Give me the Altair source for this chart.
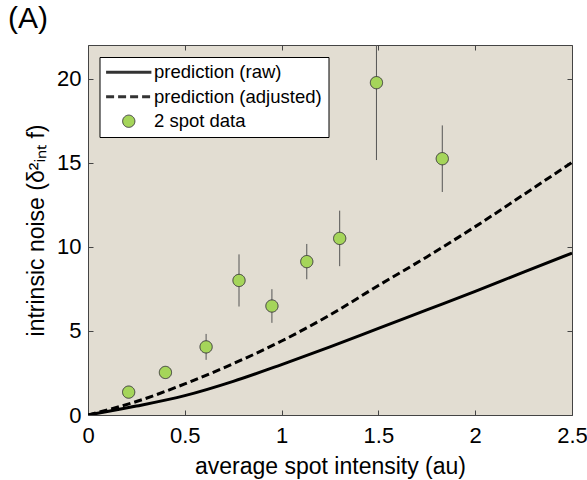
import altair as alt
import pandas as pd

# ---- data ----
series_names = ["prediction (raw)", "prediction (adjusted)", "2 spot data"]

curve_x = [0.0, 0.25, 0.5, 0.75, 1.0, 1.25, 1.5, 1.75, 2.0, 2.25, 2.5]
raw_y = [0.0, 0.53, 1.15, 2.0, 3.0, 4.05, 5.15, 6.25, 7.35, 8.5, 9.63]
adj_y = [0.0, 0.8, 1.85, 3.05, 4.4, 5.95, 7.7, 9.4, 11.2, 13.1, 15.02]

data_x = [0.21, 0.40, 0.61, 0.78, 0.95, 1.13, 1.30, 1.49, 1.83]
data_y = [1.36, 2.53, 4.05, 8.0, 6.48, 9.12, 10.5, 19.76, 15.24]
data_err = [0.3, 0.3, 0.77, 1.55, 1.0, 1.05, 1.65, 4.6, 1.98]

x_ticks = [0, 0.5, 1, 1.5, 2, 2.5]
y_ticks = [0, 5, 10, 15, 20]

curves = pd.DataFrame({
    "x": curve_x + curve_x,
    "y": raw_y + adj_y,
    "series": [series_names[0]] * len(curve_x) + [series_names[1]] * len(curve_x),
})
pts = pd.DataFrame({
    "x": data_x,
    "y": data_y,
    "lo": [y - e for y, e in zip(data_y, data_err)],
    "hi": [y + e for y, e in zip(data_y, data_err)],
    "series": [series_names[2]] * len(data_x),
})

FONT = "Liberation Sans"
BG = "#E2DDD2"
GREEN = "#A5D55A"

xs = alt.Scale(domain=[0, 2.5], nice=False, zero=False)
ys = alt.Scale(domain=[0, 22], nice=False, zero=False)

dash_scale = alt.Scale(domain=series_names, range=[[1, 0], [8, 4], [1, 0]])
width_scale = alt.Scale(type="ordinal", domain=series_names, range=[3, 3, 1])
shape_scale = alt.Scale(domain=series_names, range=["M-3.7,0H3.7", "M-3.7,0H3.7", "circle"])
fill_scale = alt.Scale(domain=series_names, range=["#000000", "#000000", GREEN])


def inner_ticks(orient, values):
    return alt.Axis(orient=orient, values=values, offset=-5, tickSize=5, ticks=True,
                    tickColor="#444444", tickWidth=1, labels=False, domain=False,
                    grid=False, title=None)


x_main = alt.Axis(orient="bottom", values=x_ticks, format="~g",
                  title="average spot intensity (au)", ticks=False, domain=False,
                  grid=False, labelFlush=False,
                  labelFont=FONT, labelFontSize=22, labelColor="black", labelPadding=10,
                  titleFont=FONT, titleFontSize=23, titleFontWeight="normal",
                  titleColor="black", titlePadding=9)
y_main = alt.Axis(orient="left", values=y_ticks, title="intrinsic noise (δ²ᵢₙₜ f)",
                  ticks=False, domain=False, grid=False, labelFlush=False,
                  labelFont=FONT, labelFontSize=22, labelColor="black", labelPadding=7,
                  titleFont=FONT, titleFontSize=23, titleFontWeight="normal",
                  titleColor="black", titlePadding=8)

leg = alt.Legend(title=None, orient="none", legendX=11.5, legendY=12, padding=6,
                 fillColor="white", strokeColor="black", labelFont=FONT,
                 labelFontSize=18.5, labelColor="black", labelLimit=400,
                 symbolOffset=14, labelOffset=16, rowPadding=5.5, symbolSize=150)

errs = alt.Chart(pts).mark_rule(color="#555555", strokeWidth=1, clip=True).encode(
    x=alt.X("x:Q", scale=xs, axis=inner_ticks("bottom", x_ticks)),
    y=alt.Y("lo:Q", scale=ys, axis=inner_ticks("left", y_ticks)),
    y2="hi:Q",
)

line_raw = alt.Chart(curves).transform_filter(
    alt.datum.series == series_names[0]
).mark_line(color="black", strokeWidth=3, clip=True, interpolate="monotone").encode(
    x=alt.X("x:Q", scale=xs, axis=x_main),
    y=alt.Y("y:Q", scale=ys, axis=y_main),
)

line_adj = alt.Chart(curves).transform_filter(
    alt.datum.series == series_names[1]
).mark_line(color="black", strokeWidth=3, strokeDash=[8, 4], clip=True,
            interpolate="monotone").encode(
    x=alt.X("x:Q", scale=xs, axis=inner_ticks("top", x_ticks)),
    y=alt.Y("y:Q", scale=ys, axis=inner_ticks("right", y_ticks)),
)

points = alt.Chart(pts).mark_point(filled=True, size=150, stroke="#333333", opacity=1).encode(
    x=alt.X("x:Q", scale=xs, axis=None),
    y=alt.Y("y:Q", scale=ys, axis=None),
    shape=alt.Shape("series:N", scale=shape_scale, legend=leg),
    fill=alt.Fill("series:N", scale=fill_scale, legend=leg),
    strokeDash=alt.StrokeDash("series:N", scale=dash_scale, legend=leg),
    strokeWidth=alt.StrokeWidth("series:N", scale=width_scale, legend=leg),
)

chart = alt.layer(errs, line_raw, line_adj, points).resolve_axis(
    x="independent", y="independent"
).properties(
    width=484,
    height=370,
    autosize=alt.AutoSizeParams(type="none"),
    padding={"left": 88, "top": 45, "right": 15, "bottom": 65},
    background="white",
    title=alt.Title("(A)", anchor="start", frame="group", dx=-80, dy=30, fontSize=30,
                    font=FONT, fontWeight="normal", color="black", offset=17,
                    baseline="alphabetic"),
).configure_view(fill=BG, stroke="#444444", strokeWidth=1)

chart.save("out.html", embed_options={"renderer": "svg", "actions": False})
